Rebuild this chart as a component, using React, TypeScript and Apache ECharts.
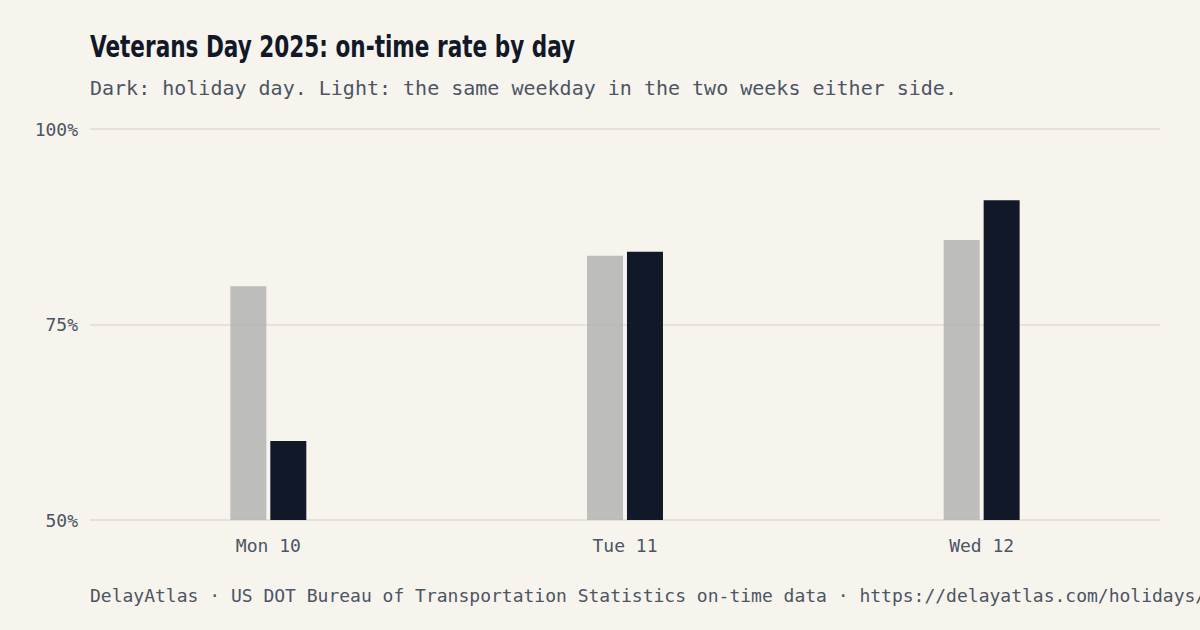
import React, { useEffect, useRef } from 'react';
import * as echarts from 'echarts';

const days = ['Mon 10', 'Tue 11', 'Wed 12'];
const surroundingRate = [79.9, 83.8, 85.8];
const holidayRate = [60.1, 84.3, 90.9];
const yTicks = [50, 75, 100];

const TITLE = 'Veterans Day 2025: on-time rate by day';
const SUBTITLE = 'Dark: holiday day. Light: the same weekday in the two weeks either side.';
const FOOTER =
  'DelayAtlas · US DOT Bureau of Transportation Statistics on-time data · https://delayatlas.com/holidays/';

const BG = '#f7f4ee';
const INK = '#111827';
const MUTED = '#4b5563';
const MONO = '"DejaVu Sans Mono", "Liberation Mono", monospace';

const App: React.FC = () => {
  const chartRef = useRef<HTMLDivElement>(null);

  useEffect(() => {
    if (!chartRef.current) return;
    const chart = echarts.init(chartRef.current, undefined, { renderer: 'svg' });

    const option: echarts.EChartsOption = {
      animation: false,
      backgroundColor: BG,
      grid: { left: 90, right: 40, top: 129, bottom: 110 },
      graphic: [
        {
          // condensed display face: squeeze DejaVu Sans Condensed horizontally
          type: 'text',
          x: 90,
          y: 31,
          scaleX: 0.8,
          style: {
            text: TITLE,
            fill: INK,
            font: 'bold 30px "DejaVu Sans Condensed", sans-serif',
            verticalAlign: 'top',
          },
        },
        {
          type: 'text',
          x: 90,
          y: 78,
          style: { text: SUBTITLE, fill: MUTED, font: `20px ${MONO}`, verticalAlign: 'top' },
        },
        {
          type: 'text',
          x: 90,
          y: 586,
          style: { text: FOOTER, fill: MUTED, font: `18px ${MONO}`, verticalAlign: 'top' },
        },
      ],
      xAxis: {
        type: 'category',
        data: days,
        axisLine: { show: false },
        axisTick: { show: false },
        axisLabel: { color: MUTED, fontFamily: MONO, fontSize: 18, margin: 16 },
      },
      yAxis: {
        type: 'value',
        min: yTicks[0],
        max: yTicks[yTicks.length - 1],
        interval: 25,
        axisLine: { show: false },
        axisTick: { show: false },
        axisLabel: { color: MUTED, fontFamily: MONO, fontSize: 18, margin: 12, formatter: '{value}%' },
        splitLine: { lineStyle: { color: '#e6e2da', width: 2 } },
      },
      series: [
        {
          name: 'Same weekday, two weeks either side',
          type: 'bar',
          data: surroundingRate,
          barWidth: 36,
          barGap: '11%',
          itemStyle: { color: '#b3b3b3', opacity: 0.85 },
        },
        {
          name: 'Holiday day',
          type: 'bar',
          data: holidayRate,
          barWidth: 36,
          itemStyle: { color: INK },
        },
      ],
    };

    chart.setOption(option);

    const handleResize = () => chart.resize();
    window.addEventListener('resize', handleResize);

    return () => {
      window.removeEventListener('resize', handleResize);
      chart.dispose();
    };
  }, []);

  return (
    <div
      ref={chartRef}
      style={{ position: 'fixed', left: 0, top: 0, width: '1200px', height: '630px' }}
    />
  );
};

export default App;
